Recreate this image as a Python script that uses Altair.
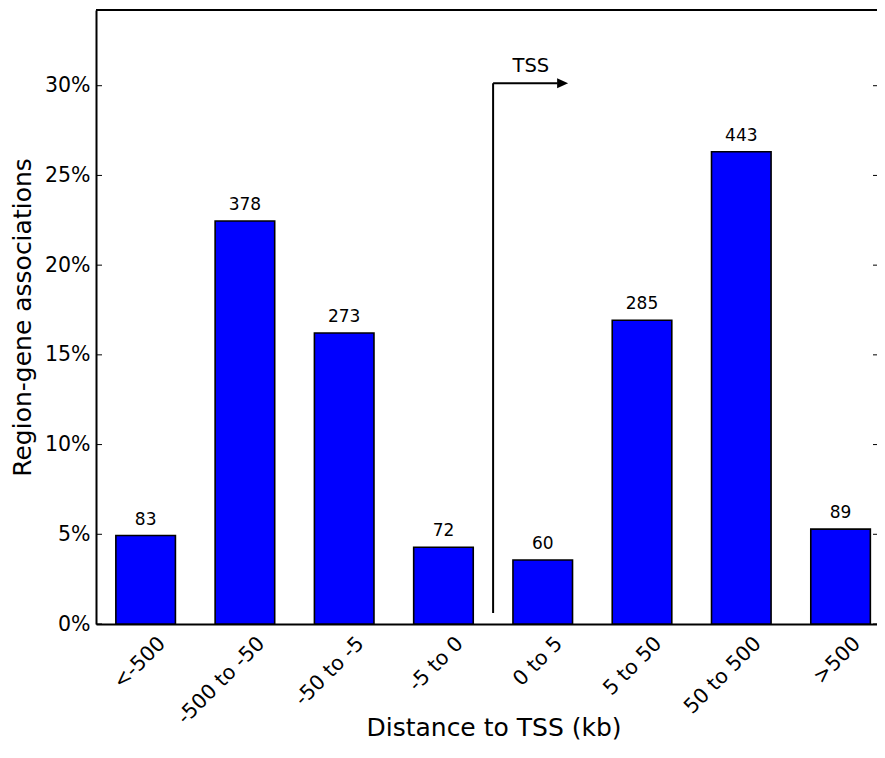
import json
import altair as alt
import pandas as pd

# ---- data ----
categories = ["<-500", "-500 to -50", "-50 to -5", "-5 to 0",
              "0 to 5", "5 to 50", "50 to 500", ">500"]
counts = [83, 378, 273, 72, 60, 285, 443, 89]
shares = [0.0493, 0.2246, 0.1622, 0.0428, 0.0357, 0.1693, 0.2632, 0.0529]
y_ticks = [0.0, 0.05, 0.10, 0.15, 0.20, 0.25, 0.30]

# TSS arrow annotation, in data units (x = category index, y = share)
arrow_x = [3.5]
arrow_y_low = [0.0061]
arrow_y_high = [0.3014]
arrow_end_x = [4.15]
arrow_head_x = [4.2]
tss_label = ["TSS"]
tss_label_x = [3.88]
tss_label_y = [0.3077]

FONT = "DejaVu Sans"
W, H = 781, 614
X_DOMAIN = [-0.5, 7.367]
Y_DOMAIN = [0, 0.3422]

df = pd.DataFrame({"cat": categories, "count": counts, "share": shares})
df["idx"] = range(len(categories))

xs = alt.Scale(domain=X_DOMAIN, nice=False, zero=False)
ys = alt.Scale(domain=Y_DOMAIN, nice=False)

label_expr = json.dumps(categories) + "[datum.value]"

x_axis = alt.Axis(
    values=list(range(len(categories))), labelExpr=label_expr,
    labelAngle=-45, labelAlign="right", labelBaseline="top",
    labelOffset=9, labelPadding=9, labelFontSize=20.5, labelFont=FONT,
    labelColor="black", labelOverlap=False, labelFlush=False, labelBound=False,
    ticks=False, grid=False, domainColor="black", domainWidth=2,
    title="Distance to TSS (kb)", titleFont=FONT, titleFontSize=25,
    titleFontWeight="normal", titleColor="black",
    titleX=397.5, titleY=111, titleBaseline="alphabetic", titleAlign="center",
)
y_axis = alt.Axis(
    values=y_ticks, format=".0%", labelFontSize=20.5, labelFont=FONT,
    labelColor="black", labelPadding=6, labelFlush=False, ticks=False,
    grid=False, domainColor="black", domainWidth=2,
    title="Region-gene associations", titleFont=FONT, titleFontSize=25,
    titleFontWeight="normal", titleColor="black",
    titleX=-66, titleBaseline="alphabetic",
)

bars = alt.Chart(df).transform_calculate(
    x_lo="datum.idx - 0.3", x_hi="datum.idx + 0.3"
).mark_rect(color="#0000ff", stroke="black", strokeWidth=1.6).encode(
    x=alt.X("x_lo:Q", scale=xs, axis=x_axis),
    x2="x_hi:Q",
    y=alt.Y("share:Q", scale=ys, axis=y_axis),
    y2=alt.datum(0),
)

labels = alt.Chart(df).mark_text(
    font=FONT, fontSize=17, color="black", baseline="alphabetic", dy=-11
).encode(
    x=alt.X("idx:Q", scale=xs),
    y=alt.Y("share:Q", scale=ys),
    text="count:Q",
)

ann = pd.DataFrame({
    "ax": arrow_x, "ylo": arrow_y_low, "yhi": arrow_y_high,
    "aend": arrow_end_x, "ahead": arrow_head_x,
    "label": tss_label, "lx": tss_label_x, "ly": tss_label_y,
})

arrow_v = alt.Chart(ann).mark_rule(color="black", strokeWidth=2).encode(
    x=alt.X("ax:Q", scale=xs), y=alt.Y("ylo:Q", scale=ys), y2="yhi:Q")
arrow_h = alt.Chart(ann).mark_rule(color="black", strokeWidth=2).encode(
    x=alt.X("ax:Q", scale=xs), x2="aend:Q", y=alt.Y("yhi:Q", scale=ys))
arrow_head = alt.Chart(ann).mark_point(
    shape="M-1,-0.9L1,0L-1,0.9Z", size=121, filled=True, color="black", opacity=1
).encode(x=alt.X("ahead:Q", scale=xs), y=alt.Y("yhi:Q", scale=ys))
tss_text = alt.Chart(ann).mark_text(
    font=FONT, fontSize=19.5, color="black", baseline="alphabetic", align="center"
).encode(x=alt.X("lx:Q", scale=xs), y=alt.Y("ly:Q", scale=ys), text="label:N")

ticks_df = pd.DataFrame({"t": y_ticks})
left_ticks = alt.Chart(ticks_df).mark_rule(color="black", strokeWidth=1).encode(
    y=alt.Y("t:Q", scale=ys), x=alt.value(0), x2=alt.value(6))
right_ticks = alt.Chart(ticks_df).mark_rule(color="black", strokeWidth=1).encode(
    y=alt.Y("t:Q", scale=ys), x=alt.value(W - 4), x2=alt.value(W))
top_spine = alt.Chart(ticks_df.head(1)).mark_rule(color="black", strokeWidth=2).encode(
    y=alt.value(0), x=alt.value(0), x2=alt.value(W))

chart = alt.layer(
    bars, labels, arrow_v, arrow_h, arrow_head, tss_text,
    left_ticks, right_ticks, top_spine,
).properties(
    width=W, height=H,
    padding={"left": 88, "top": 2, "right": 0, "bottom": 122},
    autosize=alt.AutoSizeParams(type="none"),
    background="white",
).configure_view(strokeWidth=0)

chart.save("out.html", embed_options={"renderer": "svg", "actions": False})
